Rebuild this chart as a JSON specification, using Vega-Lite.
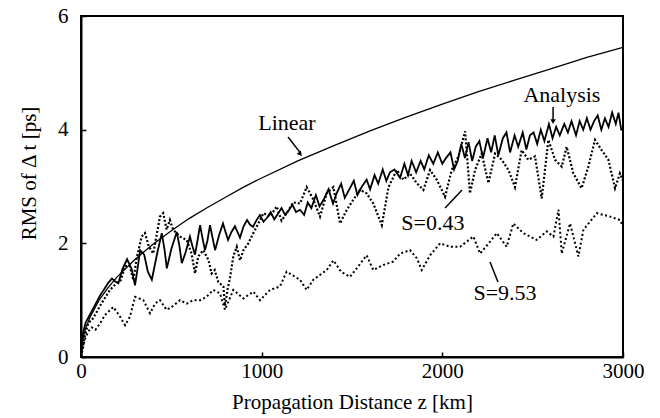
{
  "$schema": "https://vega.github.io/schema/vega-lite/v6.json",
  "width": 542,
  "height": 341,
  "autosize": "none",
  "padding": {"left": 81, "top": 16, "right": 37, "bottom": 61},
  "background": "white",
  "config": {
    "view": {"stroke": "black", "strokeWidth": 2},
    "axis": {
      "labelFont": "Liberation Serif", "labelFontSize": 21, "labelColor": "black",
      "titleFont": "Liberation Serif", "titleFontSize": 21, "titleFontWeight": "normal", "titleColor": "black",
      "domainColor": "black", "domainWidth": 2, "grid": false, "labelFlush": false, "labelOverlap": false,
      "ticks": true, "tickSize": -5, "tickColor": "black", "tickWidth": 1.5
    }
  },
  "datasets": {
    "curves": [
      {"s":"L","z":0,"v":0},{"s":"L","z":10,"v":0.31},{"s":"L","z":25,"v":0.5},{"s":"L","z":50,"v":0.7},{"s":"L","z":100,"v":1.0},{"s":"L","z":150,"v":1.22},{"s":"L","z":200,"v":1.41},{"s":"L","z":300,"v":1.72},{"s":"L","z":400,"v":1.99},{"s":"L","z":500,"v":2.22},{"s":"L","z":600,"v":2.44},{"s":"L","z":700,"v":2.63},{"s":"L","z":800,"v":2.81},{"s":"L","z":900,"v":2.99},{"s":"L","z":1000,"v":3.15},{"s":"L","z":1200,"v":3.45},{"s":"L","z":1400,"v":3.72},{"s":"L","z":1600,"v":3.98},{"s":"L","z":1800,"v":4.22},{"s":"L","z":2000,"v":4.45},{"s":"L","z":2200,"v":4.67},{"s":"L","z":2400,"v":4.87},{"s":"L","z":2600,"v":5.07},{"s":"L","z":2800,"v":5.27},{"s":"L","z":3000,"v":5.45},

      {"s":"A","z":0,"v":0},{"s":"A","z":10,"v":0.4},{"s":"A","z":25,"v":0.6},{"s":"A","z":50,"v":0.75},{"s":"A","z":75,"v":0.9},{"s":"A","z":105,"v":1.08},{"s":"A","z":130,"v":1.2},{"s":"A","z":150,"v":1.3},{"s":"A","z":171,"v":1.38},{"s":"A","z":190,"v":1.33},{"s":"A","z":207,"v":1.3},{"s":"A","z":230,"v":1.55},{"s":"A","z":255,"v":1.72},{"s":"A","z":280,"v":1.55},{"s":"A","z":299,"v":1.26},{"s":"A","z":315,"v":1.6},{"s":"A","z":327,"v":1.88},{"s":"A","z":350,"v":1.8},{"s":"A","z":370,"v":1.5},{"s":"A","z":392,"v":1.36},{"s":"A","z":420,"v":1.8},{"s":"A","z":447,"v":2.18},{"s":"A","z":462,"v":1.9},{"s":"A","z":475,"v":1.56},{"s":"A","z":500,"v":1.9},{"s":"A","z":530,"v":2.2},{"s":"A","z":545,"v":1.95},{"s":"A","z":558,"v":1.65},{"s":"A","z":580,"v":1.85},{"s":"A","z":603,"v":2.12},{"s":"A","z":617,"v":1.95},{"s":"A","z":631,"v":1.8},{"s":"A","z":645,"v":2.05},{"s":"A","z":659,"v":2.32},{"s":"A","z":672,"v":2.1},{"s":"A","z":686,"v":1.88},{"s":"A","z":700,"v":2.05},{"s":"A","z":714,"v":2.32},{"s":"A","z":728,"v":2.1},{"s":"A","z":742,"v":1.88},{"s":"A","z":765,"v":2.15},{"s":"A","z":786,"v":2.35},{"s":"A","z":800,"v":2.2},{"s":"A","z":814,"v":2.06},{"s":"A","z":833,"v":2.2},{"s":"A","z":852,"v":2.3},{"s":"A","z":866,"v":2.2},{"s":"A","z":880,"v":2.1},{"s":"A","z":900,"v":2.3},{"s":"A","z":919,"v":2.41},{"s":"A","z":935,"v":2.33},{"s":"A","z":952,"v":2.29},{"s":"A","z":970,"v":2.4},{"s":"A","z":990,"v":2.5},{"s":"A","z":1010,"v":2.38},{"s":"A","z":1030,"v":2.45},{"s":"A","z":1050,"v":2.55},{"s":"A","z":1070,"v":2.42},{"s":"A","z":1090,"v":2.52},{"s":"A","z":1110,"v":2.62},{"s":"A","z":1130,"v":2.5},{"s":"A","z":1150,"v":2.58},{"s":"A","z":1170,"v":2.68},{"s":"A","z":1190,"v":2.55},{"s":"A","z":1212,"v":2.59},{"s":"A","z":1235,"v":2.5},{"s":"A","z":1255,"v":2.72},{"s":"A","z":1275,"v":2.62},{"s":"A","z":1300,"v":2.85},{"s":"A","z":1320,"v":2.65},{"s":"A","z":1345,"v":2.78},{"s":"A","z":1370,"v":2.95},{"s":"A","z":1395,"v":2.7},{"s":"A","z":1415,"v":2.88},{"s":"A","z":1440,"v":3.05},{"s":"A","z":1460,"v":2.8},{"s":"A","z":1485,"v":2.95},{"s":"A","z":1510,"v":3.1},{"s":"A","z":1530,"v":2.85},{"s":"A","z":1555,"v":3.0},{"s":"A","z":1581,"v":3.12},{"s":"A","z":1600,"v":2.95},{"s":"A","z":1625,"v":3.2},{"s":"A","z":1645,"v":3.05},{"s":"A","z":1670,"v":3.3},{"s":"A","z":1690,"v":3.1},{"s":"A","z":1710,"v":3.25},{"s":"A","z":1735,"v":3.3},{"s":"A","z":1766,"v":3.15},{"s":"A","z":1790,"v":3.4},{"s":"A","z":1810,"v":3.2},{"s":"A","z":1830,"v":3.45},{"s":"A","z":1855,"v":3.25},{"s":"A","z":1880,"v":3.45},{"s":"A","z":1900,"v":3.3},{"s":"A","z":1925,"v":3.55},{"s":"A","z":1950,"v":3.4},{"s":"A","z":1975,"v":3.6},{"s":"A","z":2000,"v":3.4},{"s":"A","z":2020,"v":3.5},{"s":"A","z":2045,"v":3.6},{"s":"A","z":2065,"v":3.3},{"s":"A","z":2085,"v":3.45},{"s":"A","z":2105,"v":3.75},{"s":"A","z":2125,"v":3.5},{"s":"A","z":2145,"v":3.78},{"s":"A","z":2165,"v":3.45},{"s":"A","z":2185,"v":3.7},{"s":"A","z":2205,"v":3.8},{"s":"A","z":2225,"v":3.5},{"s":"A","z":2250,"v":3.85},{"s":"A","z":2270,"v":3.6},{"s":"A","z":2290,"v":3.9},{"s":"A","z":2310,"v":3.55},{"s":"A","z":2335,"v":3.85},{"s":"A","z":2355,"v":3.95},{"s":"A","z":2375,"v":3.6},{"s":"A","z":2400,"v":3.9},{"s":"A","z":2420,"v":3.7},{"s":"A","z":2445,"v":3.95},{"s":"A","z":2465,"v":3.65},{"s":"A","z":2485,"v":3.9},{"s":"A","z":2505,"v":3.95},{"s":"A","z":2525,"v":3.75},{"s":"A","z":2545,"v":4.0},{"s":"A","z":2565,"v":3.8},{"s":"A","z":2590,"v":4.1},{"s":"A","z":2610,"v":3.85},{"s":"A","z":2630,"v":4.05},{"s":"A","z":2650,"v":3.9},{"s":"A","z":2675,"v":4.1},{"s":"A","z":2695,"v":3.95},{"s":"A","z":2715,"v":4.15},{"s":"A","z":2740,"v":3.9},{"s":"A","z":2760,"v":4.15},{"s":"A","z":2780,"v":4.0},{"s":"A","z":2800,"v":4.2},{"s":"A","z":2820,"v":4.0},{"s":"A","z":2840,"v":4.15},{"s":"A","z":2860,"v":4.25},{"s":"A","z":2880,"v":4.0},{"s":"A","z":2900,"v":4.2},{"s":"A","z":2920,"v":4.05},{"s":"A","z":2940,"v":4.3},{"s":"A","z":2960,"v":4.1},{"s":"A","z":2975,"v":4.3},{"s":"A","z":2990,"v":4.0},{"s":"A","z":3000,"v":4.0},

      {"s":"B","z":0,"v":0},{"s":"B","z":20,"v":0.35},{"s":"B","z":40,"v":0.6},{"s":"B","z":60,"v":0.65},{"s":"B","z":80,"v":0.75},{"s":"B","z":105,"v":0.9},{"s":"B","z":160,"v":1.18},{"s":"B","z":197,"v":1.3},{"s":"B","z":220,"v":1.35},{"s":"B","z":244,"v":1.6},{"s":"B","z":270,"v":1.6},{"s":"B","z":290,"v":1.35},{"s":"B","z":308,"v":1.74},{"s":"B","z":336,"v":2.12},{"s":"B","z":354,"v":2.18},{"s":"B","z":375,"v":1.95},{"s":"B","z":400,"v":1.82},{"s":"B","z":437,"v":2.47},{"s":"B","z":455,"v":2.53},{"s":"B","z":474,"v":2.24},{"s":"B","z":492,"v":2.41},{"s":"B","z":510,"v":2.24},{"s":"B","z":548,"v":2.12},{"s":"B","z":585,"v":2.06},{"s":"B","z":612,"v":1.82},{"s":"B","z":631,"v":1.47},{"s":"B","z":649,"v":1.77},{"s":"B","z":677,"v":1.88},{"s":"B","z":705,"v":1.71},{"s":"B","z":723,"v":1.47},{"s":"B","z":740,"v":1.53},{"s":"B","z":760,"v":1.32},{"s":"B","z":788,"v":1.24},{"s":"B","z":797,"v":0.9},{"s":"B","z":812,"v":1.2},{"s":"B","z":825,"v":1.4},{"s":"B","z":843,"v":1.77},{"s":"B","z":862,"v":1.94},{"s":"B","z":880,"v":1.7},{"s":"B","z":899,"v":1.88},{"s":"B","z":926,"v":2.0},{"s":"B","z":954,"v":2.18},{"s":"B","z":991,"v":2.41},{"s":"B","z":1010,"v":2.53},{"s":"B","z":1046,"v":2.47},{"s":"B","z":1083,"v":2.65},{"s":"B","z":1110,"v":2.4},{"s":"B","z":1138,"v":2.53},{"s":"B","z":1175,"v":2.72},{"s":"B","z":1212,"v":2.7},{"s":"B","z":1249,"v":2.99},{"s":"B","z":1286,"v":2.77},{"s":"B","z":1323,"v":2.47},{"s":"B","z":1360,"v":2.88},{"s":"B","z":1397,"v":2.99},{"s":"B","z":1434,"v":2.35},{"s":"B","z":1471,"v":2.59},{"s":"B","z":1508,"v":2.77},{"s":"B","z":1544,"v":2.94},{"s":"B","z":1581,"v":2.88},{"s":"B","z":1618,"v":2.7},{"s":"B","z":1665,"v":2.32},{"s":"B","z":1702,"v":2.99},{"s":"B","z":1748,"v":3.29},{"s":"B","z":1785,"v":3.12},{"s":"B","z":1821,"v":3.23},{"s":"B","z":1858,"v":3.06},{"s":"B","z":1895,"v":2.94},{"s":"B","z":1932,"v":3.29},{"s":"B","z":1969,"v":3.12},{"s":"B","z":2015,"v":2.82},{"s":"B","z":2052,"v":3.29},{"s":"B","z":2089,"v":3.53},{"s":"B","z":2126,"v":3.97},{"s":"B","z":2153,"v":2.88},{"s":"B","z":2181,"v":3.29},{"s":"B","z":2218,"v":3.58},{"s":"B","z":2255,"v":3.06},{"s":"B","z":2292,"v":3.58},{"s":"B","z":2329,"v":3.47},{"s":"B","z":2366,"v":3.29},{"s":"B","z":2402,"v":2.99},{"s":"B","z":2439,"v":3.64},{"s":"B","z":2476,"v":3.47},{"s":"B","z":2513,"v":3.53},{"s":"B","z":2550,"v":2.79},{"s":"B","z":2587,"v":3.82},{"s":"B","z":2624,"v":3.47},{"s":"B","z":2661,"v":3.35},{"s":"B","z":2688,"v":3.7},{"s":"B","z":2725,"v":3.23},{"s":"B","z":2771,"v":2.97},{"s":"B","z":2808,"v":3.35},{"s":"B","z":2845,"v":3.82},{"s":"B","z":2882,"v":3.64},{"s":"B","z":2919,"v":3.47},{"s":"B","z":2956,"v":2.97},{"s":"B","z":2983,"v":3.23},{"s":"B","z":3000,"v":3.1},

      {"s":"C","z":0,"v":0},{"s":"C","z":20,"v":0.3},{"s":"C","z":40,"v":0.45},{"s":"C","z":60,"v":0.52},{"s":"C","z":80,"v":0.48},{"s":"C","z":105,"v":0.59},{"s":"C","z":133,"v":0.74},{"s":"C","z":179,"v":0.88},{"s":"C","z":216,"v":0.71},{"s":"C","z":244,"v":0.56},{"s":"C","z":271,"v":0.71},{"s":"C","z":299,"v":1.06},{"s":"C","z":345,"v":1.0},{"s":"C","z":382,"v":0.77},{"s":"C","z":410,"v":0.94},{"s":"C","z":437,"v":1.0},{"s":"C","z":474,"v":0.83},{"s":"C","z":502,"v":0.88},{"s":"C","z":548,"v":1.0},{"s":"C","z":585,"v":0.94},{"s":"C","z":622,"v":1.0},{"s":"C","z":659,"v":1.0},{"s":"C","z":695,"v":1.06},{"s":"C","z":732,"v":1.18},{"s":"C","z":769,"v":1.12},{"s":"C","z":797,"v":0.83},{"s":"C","z":843,"v":1.18},{"s":"C","z":899,"v":1.03},{"s":"C","z":954,"v":1.15},{"s":"C","z":991,"v":1.0},{"s":"C","z":1046,"v":1.18},{"s":"C","z":1101,"v":1.24},{"s":"C","z":1138,"v":1.5},{"s":"C","z":1212,"v":1.36},{"s":"C","z":1249,"v":1.18},{"s":"C","z":1286,"v":1.36},{"s":"C","z":1360,"v":1.53},{"s":"C","z":1397,"v":1.7},{"s":"C","z":1440,"v":1.5},{"s":"C","z":1489,"v":1.41},{"s":"C","z":1526,"v":1.56},{"s":"C","z":1581,"v":1.79},{"s":"C","z":1618,"v":1.53},{"s":"C","z":1674,"v":1.62},{"s":"C","z":1729,"v":1.68},{"s":"C","z":1766,"v":1.82},{"s":"C","z":1821,"v":1.88},{"s":"C","z":1858,"v":1.74},{"s":"C","z":1886,"v":1.53},{"s":"C","z":1932,"v":1.79},{"s":"C","z":1988,"v":2.0},{"s":"C","z":2043,"v":1.94},{"s":"C","z":2098,"v":1.94},{"s":"C","z":2172,"v":2.12},{"s":"C","z":2209,"v":1.82},{"s":"C","z":2264,"v":2.03},{"s":"C","z":2301,"v":2.18},{"s":"C","z":2356,"v":1.94},{"s":"C","z":2393,"v":2.35},{"s":"C","z":2448,"v":2.18},{"s":"C","z":2522,"v":2.06},{"s":"C","z":2578,"v":2.21},{"s":"C","z":2615,"v":2.12},{"s":"C","z":2643,"v":2.59},{"s":"C","z":2661,"v":1.82},{"s":"C","z":2707,"v":2.35},{"s":"C","z":2753,"v":1.77},{"s":"C","z":2781,"v":2.24},{"s":"C","z":2855,"v":2.53},{"s":"C","z":2929,"v":2.47},{"s":"C","z":2984,"v":2.41},{"s":"C","z":3000,"v":2.3}
    ],
    "labels": [
      {"label":"Linear","z":1140,"v":4.0},
      {"label":"Analysis","z":2662,"v":4.49},
      {"label":"S=0.43","z":1948,"v":2.24},
      {"label":"S=9.53","z":2347,"v":1.0}
    ],
    "arrows": [
      {"z":1146,"v":3.87,"z2":1212,"v2":3.6},
      {"z":2613,"v":4.4,"z2":2613,"v2":4.17},
      {"z":2015,"v":2.62,"z2":2109,"v2":2.94},
      {"z":2308,"v":1.32,"z2":2264,"v2":1.67}
    ],
    "heads": [
      {"z":1214,"v":3.57,"shape":"L"},
      {"z":2613,"v":4.14,"shape":"A"}
    ]
  },
  "layer": [
    {
      "data": {"name": "curves"},
      "transform": [{"filter": "datum.s === 'L'"}],
      "mark": {"type": "line", "color": "black", "strokeWidth": 1.3},
      "encoding": {
        "x": {"field": "z", "type": "quantitative", "scale": {"domain": [0, 3000], "nice": false},
              "axis": {"values": [0, 1000, 2000, 3000], "format": "d", "title": "Propagation Distance z [km]", "labelPadding": 8, "titleY": 51, "titleBaseline": "alphabetic"}},
        "y": {"field": "v", "type": "quantitative", "scale": {"domain": [0, 6], "nice": false},
              "axis": {"values": [0, 2, 4, 6], "format": "d", "title": "RMS of Δ t [ps]", "labelPadding": 18, "titleX": -52, "titleY": 157, "titleBaseline": "middle"}}
      }
    },
    {
      "data": {"name": "curves"},
      "transform": [{"filter": "datum.s === 'A'"}],
      "mark": {"type": "line", "color": "black", "strokeWidth": 1.8},
      "encoding": {"x": {"field": "z", "type": "quantitative"}, "y": {"field": "v", "type": "quantitative"}}
    },
    {
      "data": {"name": "curves"},
      "transform": [{"filter": "datum.s === 'B'"}],
      "mark": {"type": "line", "color": "black", "strokeWidth": 2.2, "strokeDash": [2, 2]},
      "encoding": {"x": {"field": "z", "type": "quantitative"}, "y": {"field": "v", "type": "quantitative"}}
    },
    {
      "data": {"name": "curves"},
      "transform": [{"filter": "datum.s === 'C'"}],
      "mark": {"type": "line", "color": "black", "strokeWidth": 2, "strokeDash": [2, 2.5]},
      "encoding": {"x": {"field": "z", "type": "quantitative"}, "y": {"field": "v", "type": "quantitative"}}
    },
    {
      "data": {"name": "arrows"},
      "mark": {"type": "rule", "color": "black", "strokeWidth": 1.5},
      "encoding": {
        "x": {"field": "z", "type": "quantitative"}, "y": {"field": "v", "type": "quantitative"},
        "x2": {"field": "z2"}, "y2": {"field": "v2"}
      }
    },
    {
      "data": {"name": "heads"},
      "transform": [{"filter": "datum.shape === 'A'"}],
      "mark": {"type": "point", "shape": "triangle-down", "filled": true, "color": "black", "size": 30, "opacity": 1},
      "encoding": {"x": {"field": "z", "type": "quantitative"}, "y": {"field": "v", "type": "quantitative"}}
    },
    {
      "data": {"name": "heads"},
      "transform": [{"filter": "datum.shape === 'L'"}],
      "mark": {"type": "point", "shape": "triangle-up", "angle": 139, "filled": true, "color": "black", "size": 30, "opacity": 1},
      "encoding": {"x": {"field": "z", "type": "quantitative"}, "y": {"field": "v", "type": "quantitative"}}
    },
    {
      "data": {"name": "labels"},
      "mark": {"type": "text", "font": "Liberation Serif", "fontSize": 22, "color": "black", "align": "center", "baseline": "alphabetic"},
      "encoding": {
        "x": {"field": "z", "type": "quantitative"}, "y": {"field": "v", "type": "quantitative"},
        "text": {"field": "label"}
      }
    }
  ]
}
